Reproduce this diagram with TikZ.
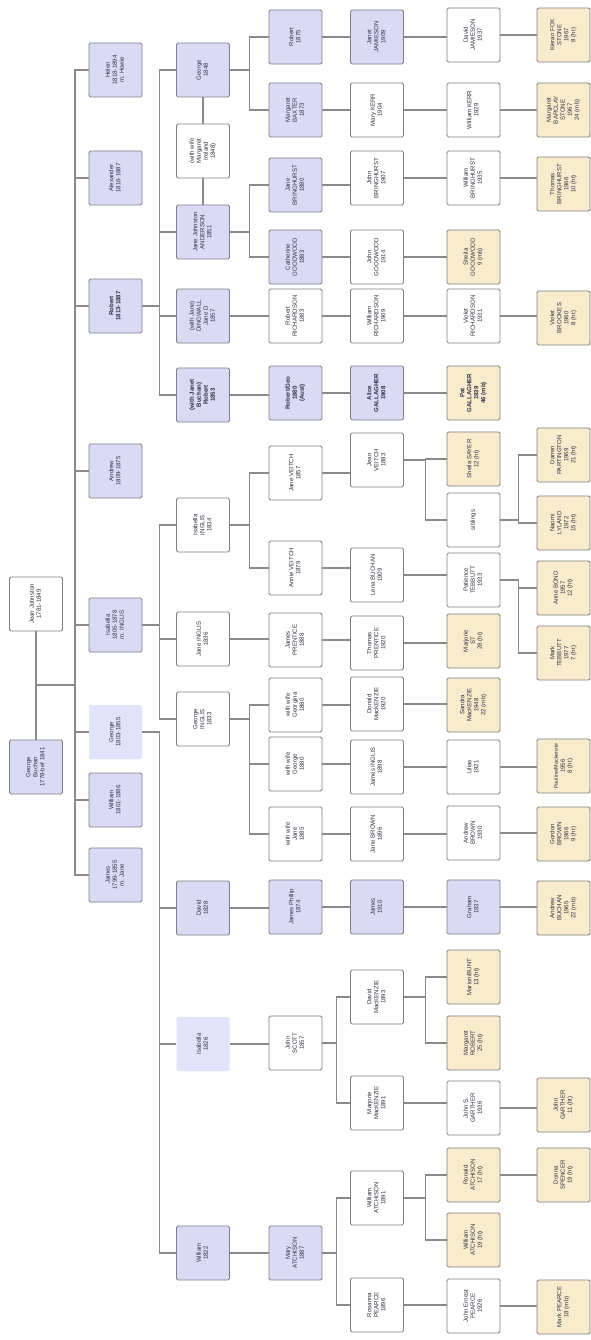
\documentclass[tikz,border=0pt]{standalone}
\usepackage{fontspec}
\setmainfont{Liberation Sans}
\usepackage{graphicx}
\usetikzlibrary{calc}
\definecolor{bluef}{HTML}{DADAF7}
\definecolor{bluel}{HTML}{E2E2FA}
\definecolor{beigef}{HTML}{F8ECCD}
\definecolor{boxline}{HTML}{808080}
\definecolor{linec}{HTML}{8A8A8A}
\definecolor{txtc}{HTML}{303040}
\newcommand\tx[1]{\rotatebox{90}{\begin{tabular}{@{}c@{}}#1\end{tabular}}}
\newcommand\kids[2]{\foreach \kk in {#2} {\draw[link] (#1.east) -| ($(#1.east)!.5!(\kk.west)$) |- (\kk.west);}}
\newcommand\one[2]{\draw[link] (#1.east) -- (#1.east -| #2.west);}
\tikzset{
  box/.style={draw=boxline, line width=0.9pt, rounded corners=1.5pt,
    minimum width=53pt, minimum height=54pt, inner sep=0pt, text=txtc,
    font=\fontsize{6.1}{7}\selectfont},
  bl/.style={box, fill=bluef},
  wh/.style={box, fill=white},
  be/.style={box, fill=beigef},
  nb/.style={box, fill=bluel, draw=none},
  link/.style={draw=linec, line width=1.2pt},
}
\begin{document}
\begin{tikzpicture}[x=1pt,y=-1pt]
\fill[white] (0,0) rectangle (591,1340);
\useasboundingbox (0,0) rectangle (591,1340);
% column 0
\node[bl] (root) at (36,767) {\tx{George\\Buchan\\1778-bef 1841}};
\node[wh] (jean) at (36,604) {\tx{Jean Johnston\\1781-1849}};
% column 1
\node[bl] (helen) at (115.5,70) {\tx{Helen\\1818-1894\\m. Howie}};
\node[bl] (alexander) at (115.5,178) {\tx{Alexander\\1816-1887}};
\node[bl] (robert) at (115.5,306) {\tx{\bfseries Robert\\\bfseries 1813-1887}};
\node[bl] (andrew) at (115.5,471) {\tx{Andrew\\1809-1875}};
\node[bl] (isabella) at (115.5,625) {\tx{Isabella\\1805-1878\\m. INGLIS}};
\node[nb] (george1) at (115.5,732) {\tx{George\\1803-1855}};
\node[bl] (william1) at (115.5,800) {\tx{William\\1801-1886}};
\node[bl] (james1) at (115.5,875) {\tx{James\\1799-1855\\m. Jane}};
% column 2
\node[bl] (georgeR) at (203,70) {\tx{George\\1848}};
\node[wh] (wifeM) at (203,151) {\tx{(with wife\\Margaret\\Ireland\\1848)}};
\node[bl] (janeJA) at (203,232) {\tx{Jane Johnston\\ANDERSON\\1851}};
\node[bl] (janeD) at (203,316) {\tx{(with Jane)\\DINGWALL\\Jane D\\1857}};
\node[bl] (robertB) at (203,395) {\tx{\bfseries (with Janet\\\bfseries Buchan)\\\bfseries Robert\\\bfseries 1853}};
\node[wh] (isaI) at (203,525) {\tx{Isabella\\INGLIS\\1834}};
\node[wh] (janeI) at (203,639) {\tx{Jane INGLIS\\1836}};
\node[wh] (georgeI) at (203,719) {\tx{George\\INGLIS\\1833}};
\node[bl] (david) at (203,908) {\tx{David\\1828}};
\node[nb] (isabella2) at (203,1044) {\tx{Isabella\\1826}};
\node[bl] (william2) at (203,1253) {\tx{William\\1822}};
% column 3
\node[bl] (robert3) at (295.5,37) {\tx{Robert\\1875}};
\node[bl] (margaretB) at (295.5,110) {\tx{Margaret\\BAXTER\\1873}};
\node[bl] (janeBr) at (295.5,185) {\tx{Jane\\BRINGHURST\\1880}};
\node[bl] (cathG) at (295.5,257) {\tx{Catherine\\GOODWOOD\\1883}};
\node[wh] (robertRi) at (295.5,316) {\tx{Robert\\RICHARDSON\\1883}};
\node[bl] (robertG) at (295.5,393) {\tx{\bfseries Robert/Geo\\\bfseries 1880\\\bfseries (Aust)}};
\node[wh] (janeV) at (295.5,473) {\tx{Jane VEITCH\\1857}};
\node[wh] (annieV) at (295.5,568) {\tx{Annie VEITCH\\1879}};
\node[wh] (jamesP) at (295.5,640) {\tx{James\\PRENTICE\\1888}};
\node[wh] (wwG) at (295.5,705) {\tx{with wife\\Georgina\\1880}};
\node[wh] (wwG2) at (295.5,764) {\tx{with wife\\George\\1880}};
\node[wh] (wwJ) at (295.5,834) {\tx{with wife\\Jane\\1885}};
\node[bl] (jamesPh) at (295.5,907) {\tx{James Phillip\\1874}};
\node[wh] (johnS) at (295.5,1043) {\tx{John\\SCOTT\\1857}};
\node[bl] (maryA) at (295.5,1253) {\tx{Mary\\ATCHISON\\1887}};
% column 4
\node[bl] (janetJ) at (377,37) {\tx{Janet\\JAMIESON\\1909}};
\node[wh] (maryK) at (377,110) {\tx{Mary KERR\\1904}};
\node[wh] (johnBr) at (377,178) {\tx{John\\BRINGHURST\\1907}};
\node[wh] (johnG) at (377,257) {\tx{John\\GOODWOOD\\1914}};
\node[wh] (williamR) at (377,316) {\tx{William\\RICHARDSON\\1909}};
\node[bl] (aliceG) at (377,393) {\tx{\bfseries Alice\\\bfseries GALLAGHER\\\bfseries 1908}};
\node[wh] (janeV2) at (377,460) {\tx{Jean\\VEITCH\\1883}};
\node[wh] (lenaB) at (377,575) {\tx{Lena BUCHAN\\1909}};
\node[wh] (thomasP) at (377,643) {\tx{Thomas\\PRENTICE\\1920}};
\node[wh] (donaldM) at (377,704) {\tx{Donald\\MacKENZIE\\1920}};
\node[wh] (jamesI) at (377,767) {\tx{James INGLIS\\1898}};
\node[wh] (janeBw) at (377,834) {\tx{Jane BROWN\\1896}};
\node[bl] (james4) at (377,907) {\tx{James\\1910}};
\node[wh] (davidM) at (377,997) {\tx{David\\MacKENZIE\\1893}};
\node[wh] (marjM) at (377,1103) {\tx{Marjorie\\MacKENZIE\\1891}};
\node[wh] (williamA) at (377,1198) {\tx{William\\ATCHISON\\1891}};
\node[wh] (rosP) at (377,1305) {\tx{Rosanna\\PEARCE\\1896}};
% column 5
\node[wh] (davidJ) at (473.5,35) {\tx{David\\JAMIESON\\1937}};
\node[wh] (williamK) at (473.5,110) {\tx{William KERR\\1929}};
\node[wh] (williamBr) at (473.5,178) {\tx{William\\BRINGHURST\\1935}};
\node[be] (sheilaG) at (473.5,257) {\tx{Sheila\\GOODWOOD\\9 (mb)}};
\node[wh] (violetR) at (473.5,316) {\tx{Violet\\RICHARDSON\\1931}};
\node[be] (patG) at (473.5,393) {\tx{\bfseries Pat\\\bfseries GALLAGHER\\\bfseries 1939\\\bfseries 46 (mb)}};
\node[be] (sheilaS) at (473.5,459) {\tx{Sheila SAYER\\12 (ht)}};
\node[wh] (siblings) at (473.5,520) {\tx{siblings}};
\node[wh] (patT) at (473.5,580) {\tx{Patience\\TEBBUTT\\1933}};
\node[be] (marg) at (473.5,641) {\tx{Marjorie\\ST\\28 (ht)}};
\node[be] (sandraM) at (473.5,705) {\tx{Sandra\\MacKENZIE\\1948\\22 (mb)}};
\node[wh] (lilias) at (473.5,767) {\tx{Lilias\\1921}};
\node[wh] (andrewB) at (473.5,833) {\tx{Andrew\\BROWN\\1930}};
\node[bl] (graham) at (473.5,907) {\tx{Graham\\1937}};
\node[be] (marjB) at (473.5,977) {\tx{Marion/BUNT\\13 (ht)}};
\node[be] (margR) at (473.5,1043) {\tx{Margaret\\ROBERT\\25 (ht)}};
\node[wh] (johnGa) at (473.5,1108) {\tx{John S.\\GARTHER\\1936}};
\node[be] (ronaldA) at (473.5,1175) {\tx{Ronald\\ATCHISON\\17 (ht)}};
\node[be] (williamA2) at (473.5,1240) {\tx{William\\ATCHISON\\19 (ht)}};
\node[wh] (ernestP) at (473.5,1306) {\tx{John Ernest\\PEARCE\\1926}};
% column 6
\node[be] (kieranF) at (563.5,35) {\tx{Kieran FOX\\STONE\\1967\\8 (ht)}};
\node[be] (margStone) at (563.5,110) {\tx{Margaret\\BARCLAY\\STONE\\1967\\24 (mb)}};
\node[be] (thomasBr) at (563.5,184) {\tx{Thomas\\BRINGHURST\\1966\\10 (ht)}};
\node[be] (violetB) at (563.5,318) {\tx{Violet\\BROOKES\\1960\\8 (ht)}};
\node[be] (darrenP) at (563.5,455) {\tx{Darren\\PARTINGTON\\1969\\21 (ht)}};
\node[be] (naomiL) at (563.5,523) {\tx{Naomi\\LYLAND\\1972\\15 (ht)}};
\node[be] (anneB) at (563.5,588) {\tx{Anne BOND\\1957\\12 (ht)}};
\node[be] (markT) at (563.5,653) {\tx{Mark\\TEBBUTT\\1977\\7 (ht)}};
\node[be] (paulineM) at (563.5,766) {\tx{{\fontsize{5.4}{7}\selectfont Pauline/Mackenzie}\\1956\\8 (ht)}};
\node[be] (gordonB) at (563.5,834) {\tx{Gordon\\BROWN\\1966\\9 (ht)}};
\node[be] (andrewBu) at (563.5,908) {\tx{Andrew\\BUCHAN\\1965\\22 (mb)}};
\node[be] (johnGa6) at (563.5,1105) {\tx{John\\GARTHER\\11 (ht)}};
\node[be] (donnaS) at (563.5,1175) {\tx{Donna\\SPENCER\\19 (ht)}};
\node[be] (markP) at (563.5,1307) {\tx{Mark PEARCE\\18 (mb)}};
% connectors
\draw[link] (jean.south) -- (root.north);
\coordinate (rm) at (36,685);
\coordinate (rb) at (75,685);
\draw[link] (rm) -- (rb);
\foreach \kk in {helen,alexander,robert,andrew,isabella,george1,william1,james1}
  {\draw[link] (rb) |- (\kk.west);}
\kids{robert}{georgeR,janeJA,janeD,robertB}
\draw[link] (georgeR.south) -- (wifeM.north);
\draw[link] (wifeM.south) -- (janeJA.north);
\kids{georgeR}{robert3,margaretB}
\one{robert3}{janetJ} \one{janetJ}{davidJ} \one{davidJ}{kieranF}
\one{margaretB}{maryK} \one{maryK}{williamK} \one{williamK}{margStone}
\kids{janeJA}{janeBr,cathG}
\one{janeBr}{johnBr} \one{johnBr}{williamBr} \one{williamBr}{thomasBr}
\one{cathG}{johnG} \one{johnG}{sheilaG}
\one{janeD}{robertRi} \one{robertRi}{williamR} \one{williamR}{violetR} \one{violetR}{violetB}
\one{robertB}{robertG} \one{robertG}{aliceG} \one{aliceG}{patG}
\kids{isabella}{isaI,janeI,georgeI}
\kids{isaI}{janeV,annieV}
\one{janeV}{janeV2}
\kids{janeV2}{sheilaS,siblings}
\kids{siblings}{darrenP,naomiL}
\one{annieV}{lenaB} \one{lenaB}{patT}
\kids{patT}{anneB,markT}
\one{janeI}{jamesP} \one{jamesP}{thomasP} \one{thomasP}{marg}
\kids{georgeI}{wwG,wwG2,wwJ}
\one{wwG}{donaldM} \one{donaldM}{sandraM}
\one{wwG2}{jamesI} \one{jamesI}{lilias} \one{lilias}{paulineM}
\one{wwJ}{janeBw} \one{janeBw}{andrewB} \one{andrewB}{gordonB}
\kids{george1}{david,isabella2,william2}
\one{david}{jamesPh} \one{jamesPh}{james4} \one{james4}{graham} \one{graham}{andrewBu}
\one{isabella2}{johnS}
\kids{johnS}{davidM,marjM}
\kids{davidM}{marjB,margR}
\one{marjM}{johnGa} \one{johnGa}{johnGa6}
\one{william2}{maryA}
\kids{maryA}{williamA,rosP}
\kids{williamA}{ronaldA,williamA2}
\one{ronaldA}{donnaS}
\one{rosP}{ernestP} \one{ernestP}{markP}
\end{tikzpicture}
\end{document}
